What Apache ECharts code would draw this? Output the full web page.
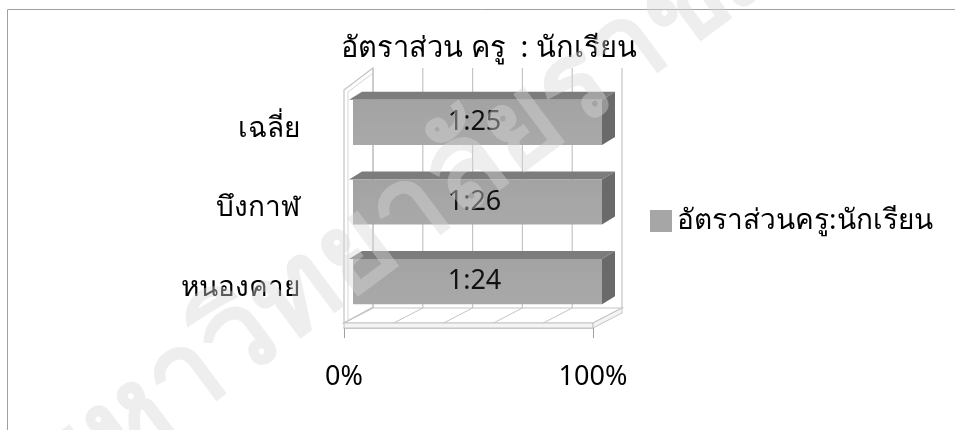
<!DOCTYPE html>
<html>
<head>
<meta charset="utf-8">
<style>
  html, body { margin: 0; padding: 0; background: #ffffff; }
  #chart { width: 955px; height: 430px; }
</style>
<script src="https://cdn.jsdelivr.net/npm/echarts@6/dist/echarts.min.js"></script>
</head>
<body>
<div id="chart"></div>
<script>
// ---- data ----
const categories = ['หนองคาย', 'บึงกาฬ', 'เฉลี่ย'];
const ratioValues = [24, 26, 25];          // students per teacher (1:x)
const seriesName = 'อัตราส่วนครู:นักเรียน';
const chartTitle = 'อัตราส่วน ครู  : นักเรียน';
const xTickValues = [0, 100];
const watermarkText = 'มหาวิทยาลัยราชภัฏ';

// 100% stacked with a single series: each value as a share of its category total
const categoryTotals = ratioValues.map(v => v);
const shares = ratioValues.map((v, i) => v / categoryTotals[i] * 100);
const barData = shares.map((s, i) => [s, i, ratioValues[i]]);

const FONT = '"Noto Sans", "DejaVu Sans", sans-serif';
const DEPTH = [29, -21];      // back wall offset
const BAR_OFF = [9, -6.5];    // bar front face offset
const BAR_DEPTH = [13, -8];   // bar depth

function renderWalls(params, api) {
  const cs = params.coordSys;
  const x0 = cs.x, x1 = cs.x + cs.width, yT = cs.y, yB = cs.y + cs.height;
  const dx = DEPTH[0], dy = DEPTH[1];
  const line = '#c4c4c4';
  const children = [];
  // left wall
  children.push({ type: 'polygon', shape: { points: [[x0, yT + 1], [x0 + dx, yT + dy], [x0 + dx, yB + dy], [x0, yB - 5]] },
    style: { fill: '#ffffff', stroke: line, lineWidth: 1.2 } });
  children.push({ type: 'line', shape: { x1: x0 + 4, y1: yT + 3, x2: x0 + 4, y2: yB - 7 }, style: { stroke: '#d6d6d6', lineWidth: 1 } });
  children.push({ type: 'line', shape: { x1: x0 + 4, y1: yT + 3, x2: x0 + dx, y2: yT + dy + 5 }, style: { stroke: '#d6d6d6', lineWidth: 1 } });
  // back wall gridlines at every 20%
  for (let k = 0; k <= 5; k++) {
    const gx = api.coord([k * 20, 0])[0] + dx;
    children.push({ type: 'line', shape: { x1: gx, y1: yT + dy, x2: gx, y2: yB + dy + 1 }, style: { stroke: line, lineWidth: 1.2 } });
  }
  // floor top surface
  const fy = yB - 5;
  children.push({ type: 'polygon', shape: { points: [[x0, fy], [x1, fy], [x1 + dx, yB + dy + 1], [x0 + dx, yB + dy + 1]] },
    style: { fill: '#ffffff', stroke: line, lineWidth: 1.2 } });
  // floor slab front and right side
  children.push({ type: 'polygon', shape: { points: [[x0, fy], [x1, fy], [x1, yB], [x0, yB]] },
    style: { fill: '#f4f4f4', stroke: line, lineWidth: 1 } });
  children.push({ type: 'polygon', shape: { points: [[x1, fy], [x1 + dx, yB + dy + 1], [x1 + dx, yB + dy + 6], [x1, yB]] },
    style: { fill: '#f4f4f4', stroke: line, lineWidth: 1 } });
  // floor hatching
  for (let k = 1; k <= 4; k++) {
    const gx = api.coord([k * 20, 0])[0];
    children.push({ type: 'line', shape: { x1: gx, y1: fy, x2: gx + dx, y2: yB + dy + 1 }, style: { stroke: line, lineWidth: 1 } });
  }
  return { type: 'group', children: children };
}

function renderBar(params, api) {
  const idx = api.value(1);
  const v = api.value(0);
  const ratio = api.value(2);
  const p0 = api.coord([0, idx]);
  const p1 = api.coord([v, idx]);
  const band = api.size([0, 1])[1];
  const h = band * 0.566;
  const x0 = p0[0] + BAR_OFF[0], x1 = p1[0] + BAR_OFF[0];
  const yt = p0[1] + BAR_OFF[1] - h / 2, yb = yt + h;
  const dx = BAR_DEPTH[0], dy = BAR_DEPTH[1];
  return {
    type: 'group',
    children: [
      { type: 'polygon', shape: { points: [[x0 - 4, yt], [x1, yt], [x1 + dx, yt + dy], [x0 + dx - 4, yt + dy]] }, style: { fill: '#7c7c7c' } },
      { type: 'polygon', shape: { points: [[x1, yt], [x1 + dx, yt + dy], [x1 + dx, yb + dy], [x1, yb]] }, style: { fill: '#6a6a6a' } },
      { type: 'rect', shape: { x: x0, y: yt, width: x1 - x0, height: h },
        style: { fill: { type: 'linear', x: 0, y: 0, x2: 0, y2: 1, colorStops: [{ offset: 0, color: '#a3a3a3' }, { offset: 1, color: '#a9a9a9' }] } } },
      { type: 'text', style: { text: '1:' + ratio, x: (x0 + x1) / 2 - 3, y: (yt + yb) / 2, align: 'center', verticalAlign: 'middle',
        fontSize: 27, fontFamily: FONT, fill: '#111111' } }
    ]
  };
}

const chart = echarts.init(document.getElementById('chart'), null, { renderer: 'canvas' });
chart.setOption({
  animation: false,
  backgroundColor: '#ffffff',
  title: {
    text: chartTitle,
    left: 336, top: 29,
    textStyle: { fontFamily: FONT, fontSize: 29, fontWeight: 'normal', color: '#000000' }
  },
  legend: {
    data: [seriesName],
    orient: 'vertical',
    left: 645, top: 202,
    icon: 'rect',
    itemWidth: 22, itemHeight: 22,
    itemGap: 8,
    textStyle: { fontFamily: FONT, fontSize: 28, color: '#000000' }
  },
  grid: { left: 344, right: 362, top: 89, bottom: 102 },
  xAxis: {
    type: 'value', min: 0, max: 100, interval: 100,
    axisLine: { show: true, lineStyle: { color: '#b8b8b8', width: 1.5 } },
    axisTick: { show: true, length: 10, lineStyle: { color: '#a0a0a0' } },
    splitLine: { show: false },
    axisLabel: { formatter: '{value}%', margin: 36, fontFamily: FONT, fontSize: 27, color: '#000000' }
  },
  yAxis: {
    type: 'category', data: categories,
    axisLine: { show: false }, axisTick: { show: false },
    axisLabel: { margin: 44, fontFamily: FONT, fontSize: 28, color: '#000000' }
  },
  graphic: [
    { type: 'rect', z: -10, silent: true, shape: { x: 7.5, y: 9.5, width: 1000, height: 500 }, style: { fill: 'none', stroke: '#a0a0a0', lineWidth: 1 } },
    { type: 'text', z: 100, silent: true, x: 0, y: 445, rotation: 0.64,
      style: { text: watermarkText, fontSize: 118, fontWeight: 'bold', fontFamily: FONT, fill: 'rgba(215,215,215,0.42)' } }
  ],
  series: [
    { type: 'custom', name: '__walls', silent: true, renderItem: renderWalls, data: [[0, 0]], encode: { x: 0, y: 1 }, z: 1 },
    { type: 'custom', name: seriesName, renderItem: renderBar, data: barData, encode: { x: 0, y: 1 },
      itemStyle: { color: '#a6a6a6' }, z: 2 }
  ]
});
</script>
</body>
</html>
